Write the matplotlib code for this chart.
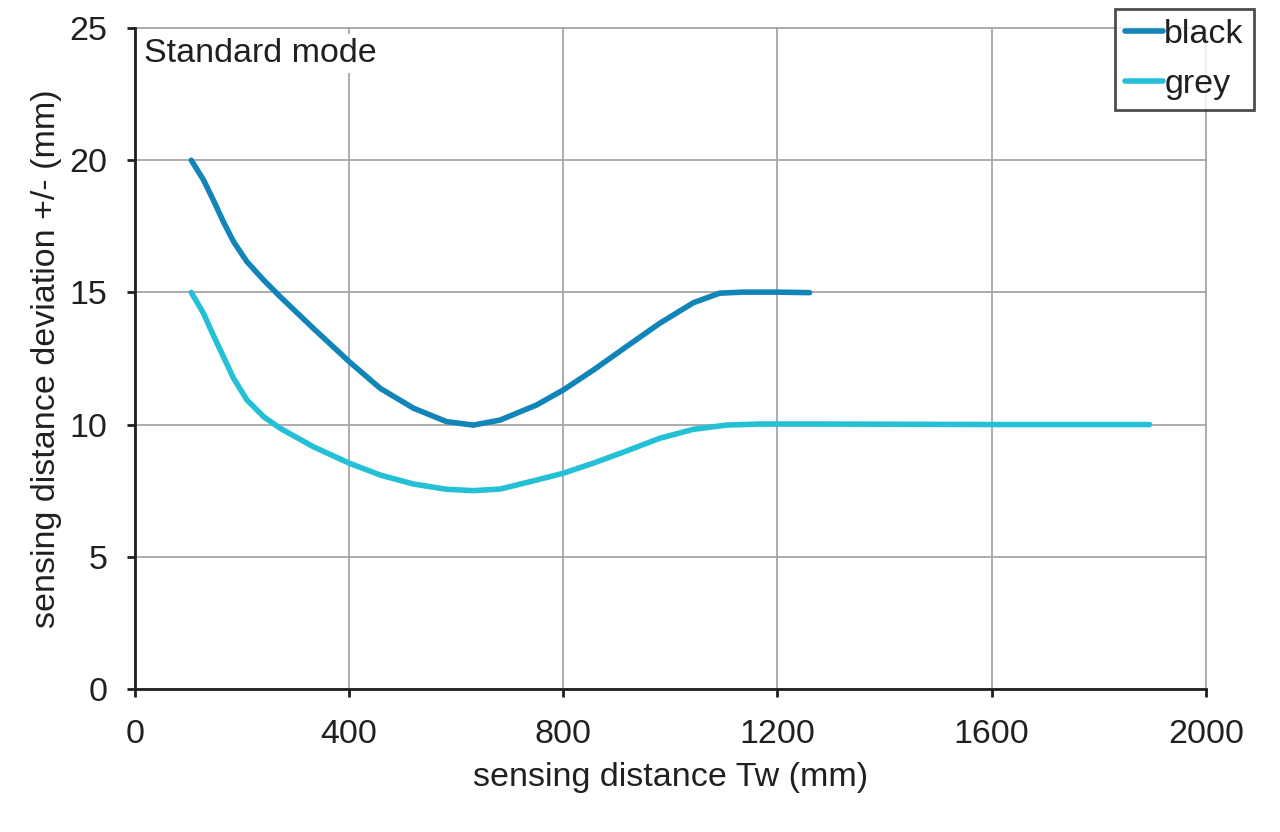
import matplotlib
matplotlib.use("Agg")
import matplotlib.pyplot as plt

plt.rcParams['font.family'] = ['Liberation Sans', 'DejaVu Sans']

# black target
black_x = [105, 128, 146, 165, 184, 209, 240, 271, 333, 400, 458, 520, 582, 632, 682,
           750, 800, 856, 918, 980, 1043, 1092, 1136, 1198, 1260]
black_y = [20.0, 19.25, 18.5, 17.67, 16.92, 16.16, 15.47, 14.84, 13.64, 12.38, 11.37, 10.62,
           10.11, 9.98, 10.17, 10.74, 11.31, 12.06, 12.95, 13.83, 14.61, 14.97, 15.01, 15.01, 14.99]

# grey target
grey_x = [105, 128, 146, 165, 184, 209, 240, 271, 333, 400, 458, 520, 582, 632, 682,
          750, 800, 856, 918, 980, 1043, 1105, 1167, 1279, 1600, 1895]
grey_y = [15.0, 14.2, 13.39, 12.57, 11.75, 10.93, 10.3, 9.86, 9.16, 8.54, 8.09, 7.75,
          7.55, 7.5, 7.56, 7.9, 8.16, 8.54, 9.0, 9.48, 9.82, 9.98, 10.02, 10.02, 10.0, 10.0]

x_ticks = [0, 400, 800, 1200, 1600, 2000]
y_ticks = [0, 5, 10, 15, 20, 25]

text_col = '#231f20'
fs = 24.5

fig = plt.figure(figsize=(12.8, 8.32), dpi=100)
ax = fig.add_axes([0.1055, 0.172, 0.8365, 0.7943])

ax.plot(black_x, black_y, color='#1285b8', lw=4, solid_capstyle='round',
        solid_joinstyle='round', label='black', zorder=3)
ax.plot(grey_x, grey_y, color='#23c0d6', lw=4, solid_capstyle='round',
        solid_joinstyle='round', label='grey', zorder=3)

ax.set_xlim(0, 2000)
ax.set_ylim(0, 25)
ax.set_xticks(x_ticks)
ax.set_yticks(y_ticks)
ax.grid(True, color='#a6a6a6', lw=1.3, clip_on=False)
ax.set_axisbelow(True)

for s in ['top', 'right']:
    ax.spines[s].set_visible(False)
for s in ['left', 'bottom']:
    ax.spines[s].set_color(text_col)
    ax.spines[s].set_linewidth(2)

ax.tick_params(direction='out', length=6, width=2, color=text_col,
               labelsize=fs, labelcolor=text_col)
ax.tick_params(axis='x', pad=16)
ax.tick_params(axis='y', pad=14)
ax.set_xlabel('sensing distance Tw (mm)', fontsize=fs, color=text_col, labelpad=8)
ax.set_ylabel('sensing distance deviation +/- (mm)', fontsize=fs, color=text_col, labelpad=5)

ax.text(0.008, 0.985, 'Standard mode', transform=ax.transAxes, fontsize=fs,
        color=text_col, va='top', ha='left',
        bbox=dict(facecolor='white', edgecolor='none', pad=3), zorder=4)

leg = ax.legend(loc='upper right', bbox_to_anchor=(1.045, 1.029), fontsize=fs,
                frameon=True, fancybox=False, handlelength=1.1, handletextpad=0.05,
                borderpad=0.3, labelspacing=0.55, borderaxespad=0)
leg.get_frame().set_edgecolor(text_col)
leg.get_frame().set_linewidth(2)
for t in leg.get_texts():
    t.set_color(text_col)

fig.savefig('out.png', dpi=100, facecolor='white')
